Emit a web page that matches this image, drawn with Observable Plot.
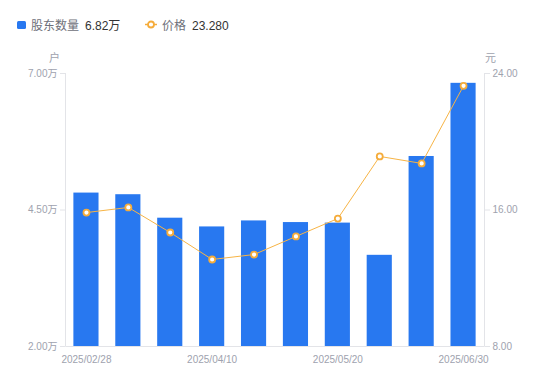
<!DOCTYPE html>
<html>
<head>
<meta charset="utf-8">
<script src="https://cdn.jsdelivr.net/npm/d3@7"></script>
<script src="https://cdn.jsdelivr.net/npm/@observablehq/plot@0.6"></script>
<style>
  body { margin: 0; background: #fff; font-family: "Liberation Sans", "Noto Sans CJK SC", sans-serif; }
  #wrap { position: relative; width: 550px; height: 381px; overflow: hidden; }
  #legend { position: relative; height: 45px; width: 550px; font-size: 12px; }
  .lg { position: absolute; top: 19px; line-height: 15px; white-space: nowrap; }
  .sw { position: absolute; left: 17px; top: 20.5px; width: 9px; height: 8.5px; border-radius: 1.5px; background: #2878f0; }
  .name { color: #6e7079; }
  .val { color: #333; }
  svg { display: block; }
</style>
</head>
<body>
<div id="wrap">
  <div id="legend">
    <div class="sw"></div>
    <div class="lg name" style="left:31px">股东数量</div>
    <div class="lg val" style="left:85px">6.82万</div>
    <svg style="position:absolute;left:145px;top:19px" width="12" height="11">
      <line x1="0" x2="12" y1="5.5" y2="5.5" stroke="#f5ac3b" stroke-width="1.5"></line>
      <circle cx="6" cy="5.5" r="3" fill="#fff" stroke="#f5ac3b" stroke-width="1.8"></circle>
    </svg>
    <div class="lg name" style="left:162px">价格</div>
    <div class="lg val" style="left:192px">23.280</div>
  </div>
  <div id="chart"></div>
</div>
<script>
const dates = ["2025/02/28","2025/03/14","2025/03/31","2025/04/10","2025/04/18","2025/04/30","2025/05/20","2025/05/30","2025/06/13","2025/06/30"];
const holders = [4.81, 4.78, 4.35, 4.19, 4.30, 4.27, 4.26, 3.67, 5.48, 6.82];
const price = [15.85, 16.15, 14.68, 13.10, 13.39, 14.45, 15.50, 19.14, 18.73, 23.28];
const holderTicks = [2, 4.5, 7];
const priceTicks = [8, 16, 24];
const shownDates = [dates[0], dates[3], dates[6], dates[9]];

// map price domain [8,24] onto holders domain [2,7]
const toY = p => 2 + (p - 8) * (7 - 2) / (24 - 8);
const fromY = v => 8 + (v - 2) * (24 - 8) / (7 - 2);

const data = dates.map((d, i) => ({date: d, holders: holders[i], price: price[i], py: toY(price[i])}));

const W = 550, H = 336, mL = 65, mR = 66, mT = 28, mB = 35;
const axisColor = "#e3e4e8";
const labelColor = "#9ea2ae";
const font = "\"Liberation Sans\", \"Noto Sans CJK SC\", sans-serif";

const axisLines = (index, scales, values, dim) => {
  const g = d3.create("svg:g").attr("stroke", axisColor).attr("stroke-width", 1);
  const x0 = dim.marginLeft + 0.5, x1 = dim.width - dim.marginRight + 0.5;
  const y0 = dim.marginTop, y1 = dim.height - dim.marginBottom + 0.5;
  g.append("line").attr("x1", x0).attr("x2", x0).attr("y1", y0).attr("y2", y1);
  g.append("line").attr("x1", x1).attr("x2", x1).attr("y1", y0).attr("y2", y1);
  g.append("line").attr("x1", x0).attr("x2", x1).attr("y1", y1).attr("y2", y1);
  return g.node();
};

const chart = Plot.plot({
  width: W,
  height: H,
  marginLeft: mL,
  marginRight: mR,
  marginTop: mT,
  marginBottom: mB,
  style: {fontFamily: font, fontSize: "10px", background: "#fff"},
  x: {type: "band", domain: dates, paddingInner: 0.4, paddingOuter: 0.2, round: false},
  y: {domain: [2, 7]},
  marks: [
    Plot.barY(data, {x: "date", y1: 2, y2: "holders", fill: "#2878f0"}),
    axisLines,
    Plot.axisY({anchor: "left", ticks: holderTicks, tickFormat: d => d.toFixed(2) + "万", tickSize: 5, tickPadding: 3, stroke: axisColor, fill: labelColor, label: null}),
    Plot.axisY({anchor: "right", ticks: priceTicks.map(toY), tickFormat: d => fromY(d).toFixed(2), tickSize: 5, tickPadding: 3, stroke: axisColor, fill: labelColor, label: null}),
    Plot.axisX({ticks: shownDates, tickSize: 0, tickPadding: 9, fill: labelColor, label: null}),
    Plot.text(["户"], {frameAnchor: "top-left", textAnchor: "middle", lineAnchor: "middle", dx: -11, dy: -15, fill: labelColor, fontSize: 11}),
    Plot.text(["元"], {frameAnchor: "top-right", textAnchor: "middle", lineAnchor: "middle", dx: 6, dy: -15, fill: labelColor, fontSize: 11}),
    Plot.line(data, {x: "date", y: "py", stroke: "#f7b445", strokeWidth: 1}),
    Plot.dot(data, {x: "date", y: "py", r: 3, fill: "#fff", stroke: "#f5ac3b", strokeWidth: 1.8})
  ]
});
document.getElementById("chart").appendChild(chart);
</script>
</body>
</html>
